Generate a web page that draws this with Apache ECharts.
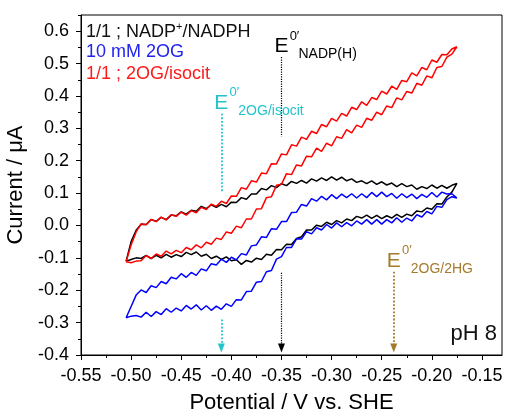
<!DOCTYPE html>
<html>
<head>
<meta charset="utf-8">
<script src="https://cdn.jsdelivr.net/npm/echarts@6/dist/echarts.min.js"></script>
<style>
  html, body { margin: 0; padding: 0; background: #fff; }
  #chart { width: 506px; height: 412px; }
</style>
</head>
<body>
<div id="chart"></div>
<script>
// Sampled electrode potentials (V vs. SHE) shared by every sweep
const potential = [
  -0.505,-0.500,-0.495,-0.490,-0.485,-0.480,-0.475,-0.470,-0.465,-0.460,
  -0.455,-0.450,-0.445,-0.440,-0.435,-0.430,-0.425,-0.420,-0.415,-0.410,
  -0.405,-0.400,-0.395,-0.390,-0.385,-0.380,-0.375,-0.370,-0.365,-0.360,
  -0.355,-0.350,-0.345,-0.340,-0.335,-0.330,-0.325,-0.320,-0.315,-0.310,
  -0.305,-0.300,-0.295,-0.290,-0.285,-0.280,-0.275,-0.270,-0.265,-0.260,
  -0.255,-0.250,-0.245,-0.240,-0.235,-0.230,-0.225,-0.220,-0.215,-0.210,
  -0.205,-0.200,-0.195,-0.190,-0.185,-0.180,-0.175
];

// 1/1 NADP+/NADPH : anodic (forward) and cathodic (return) currents, µA
const nadpForward = [
  -0.110,-0.050,-0.015,0.004,0.003,0.018,0.013,0.025,0.018,0.032,
  0.030,0.042,0.035,0.047,0.044,0.059,0.052,0.064,0.056,0.065,
  0.058,0.072,0.071,0.086,0.081,0.097,0.097,0.114,0.110,0.123,
  0.117,0.129,0.123,0.136,0.130,0.139,0.131,0.144,0.137,0.147,
  0.139,0.150,0.140,0.149,0.138,0.144,0.133,0.138,0.129,0.138,
  0.127,0.135,0.125,0.131,0.120,0.129,0.120,0.125,0.112,0.120,
  0.114,0.125,0.115,0.124,0.115,0.124,0.130
];
const nadpReturn = [
  -0.110,-0.105,-0.100,-0.102,-0.092,-0.102,-0.092,-0.100,-0.089,-0.098,
  -0.090,-0.096,-0.083,-0.090,-0.082,-0.095,-0.089,-0.102,-0.095,-0.105,
  -0.097,-0.109,-0.106,-0.120,-0.108,-0.113,-0.101,-0.105,-0.089,-0.092,
  -0.074,-0.075,-0.058,-0.059,-0.040,-0.035,-0.014,-0.014,0.001,-0.003,
  0.010,0.003,0.015,0.008,0.020,0.015,0.028,0.023,0.032,0.022,
  0.031,0.021,0.030,0.023,0.034,0.025,0.035,0.030,0.045,0.042,
  0.054,0.050,0.067,0.066,0.088,0.103,0.130
];

// 10 mM 2OG
const ogForward = [
  -0.285,-0.250,-0.215,-0.199,-0.207,-0.186,-0.192,-0.173,-0.180,-0.160,
  -0.165,-0.149,-0.160,-0.145,-0.154,-0.134,-0.140,-0.118,-0.122,-0.104,
  -0.114,-0.098,-0.106,-0.087,-0.091,-0.063,-0.060,-0.035,-0.037,-0.010,
  -0.012,0.012,0.012,0.040,0.041,0.065,0.060,0.083,0.075,0.090,
  0.079,0.095,0.083,0.097,0.086,0.098,0.085,0.098,0.086,0.102,
  0.089,0.103,0.089,0.099,0.084,0.098,0.086,0.097,0.083,0.096,
  0.087,0.102,0.088,0.103,0.097,0.098,0.085
];
const ogReturn = [
  -0.285,-0.280,-0.278,-0.283,-0.268,-0.281,-0.266,-0.275,-0.257,-0.268,
  -0.255,-0.264,-0.247,-0.258,-0.245,-0.261,-0.248,-0.262,-0.249,-0.259,
  -0.242,-0.250,-0.229,-0.230,-0.204,-0.203,-0.175,-0.173,-0.143,-0.139,
  -0.104,-0.096,-0.068,-0.068,-0.041,-0.042,-0.019,-0.026,-0.007,-0.014,
  0.003,-0.008,0.008,-0.004,0.009,-0.001,0.014,0.004,0.018,0.004,
  0.018,0.004,0.018,0.008,0.024,0.010,0.023,0.014,0.033,0.026,
  0.043,0.036,0.059,0.056,0.080,0.089,0.085
];

// 1/1 2OG/isocitrate
const isocitForward = [
  -0.112,-0.060,-0.020,0.005,0.002,0.019,0.012,0.026,0.017,0.033,
  0.028,0.041,0.032,0.046,0.039,0.056,0.049,0.066,0.059,0.075,
  0.068,0.091,0.090,0.117,0.112,0.138,0.134,0.162,0.160,0.191,
  0.190,0.221,0.218,0.249,0.245,0.273,0.266,0.291,0.284,0.312,
  0.305,0.331,0.322,0.346,0.338,0.365,0.358,0.382,0.371,0.395,
  0.389,0.415,0.406,0.430,0.420,0.448,0.444,0.471,0.462,0.488,
  0.481,0.511,0.504,0.528,0.527,0.545,0.552
];
const isocitReturn = [
  -0.112,-0.115,-0.110,-0.109,-0.093,-0.102,-0.088,-0.095,-0.079,-0.088,
  -0.077,-0.084,-0.068,-0.075,-0.060,-0.069,-0.052,-0.058,-0.039,-0.043,
  -0.020,-0.024,-0.002,-0.007,0.020,0.020,0.051,0.052,0.086,0.089,
  0.124,0.127,0.160,0.157,0.187,0.184,0.214,0.212,0.239,0.229,
  0.254,0.246,0.274,0.269,0.296,0.286,0.310,0.303,0.331,0.325,
  0.350,0.342,0.369,0.364,0.394,0.388,0.414,0.409,0.439,0.433,
  0.462,0.456,0.488,0.491,0.520,0.529,0.552
];

// Axis ticks
const xMajorTicks = [-0.55,-0.50,-0.45,-0.40,-0.35,-0.30,-0.25,-0.20,-0.15];
const xMinorTicks = [-0.525,-0.475,-0.425,-0.375,-0.325,-0.275,-0.225,-0.175];
const yMajorTicks = [-0.4,-0.3,-0.2,-0.1,0.0,0.1,0.2,0.3,0.4,0.5,0.6];
const yMinorTicks = [-0.35,-0.25,-0.15,-0.05,0.05,0.15,0.25,0.35,0.45,0.55,0.65];

// Formal potentials: [E0', top of upper dashes, bottom of upper dashes (or null), top of lower dashes, arrow tip]
const ePotNadp   = [-0.35,  0.52, 0.275, -0.146, -0.378];
const ePotIsocit = [-0.41,  0.345, 0.105, -0.29, -0.378];
const ePot2hg    = [-0.238, null, null, -0.143, -0.378];

const FONT = '"Liberation Sans", Arial, sans-serif';
const CYAN = '#22c4cc';
const BROWN = '#a57b2b';

function cycle(fwd, ret) {
  const a = potential.map((e, i) => [e, fwd[i]]);
  const b = potential.map((e, i) => [e, ret[i]]).reverse();
  return a.concat(b);
}

function cvSeries(name, color, fwd, ret) {
  return {
    name, type: 'line', data: cycle(fwd, ret),
    symbol: 'none', showSymbol: false,
    lineStyle: { color, width: 1.5 }, itemStyle: { color },
    xAxisIndex: 0, yAxisIndex: 0, silent: true
  };
}

function arrowLines(p, color, width) {
  const out = [];
  const st = { color, type: 'dotted', width };
  if (p[1] !== null) {
    out.push([{ coord: [p[0], p[1]], symbol: 'none', lineStyle: st },
              { coord: [p[0], p[2]], symbol: 'none', lineStyle: st }]);
  }
  out.push([{ coord: [p[0], p[3]], symbol: 'none', lineStyle: st },
            { coord: [p[0], p[4]], symbol: 'triangle', symbolSize: [7, 9], lineStyle: st }]);
  return out;
}

function eLabel(x, y, color, sub) {
  const base = { show: true, position: 'inside', color, fontFamily: FONT };
  return [
    { coord: [x, y], symbolSize: 0, label: Object.assign({}, base, { formatter: 'E', fontSize: 21, offset: [0, -11] }) },
    { coord: [x, y], symbolSize: 0, label: Object.assign({}, base, { formatter: '0\u2032', fontSize: 13, offset: [13, -21] }) },
    { coord: [x, y], symbolSize: 0, label: Object.assign({}, base, { formatter: sub, fontSize: 14, align: 'left', offset: [17, -3] }) }
  ];
}

const topOf = p => (p[1] !== null ? p[1] : p[3]);

const chart = echarts.init(document.getElementById('chart'), null, { renderer: 'canvas' });

const axisText = { fontFamily: FONT, color: '#000' };

chart.setOption({
  animation: false,
  backgroundColor: '#fff',
  grid: {
    left: 81, right: 4, top: 15, bottom: 57,
    outerBoundsMode: 'none', containLabel: false,
    show: true, borderColor: '#000', borderWidth: 1
  },
  xAxis: [
    {
      type: 'value', min: -0.55, max: -0.13, position: 'bottom',
      axisLine: { show: true, onZero: false, lineStyle: { color: '#000', width: 1 } },
      axisTick: { show: true, length: 5, customValues: xMajorTicks, lineStyle: { color: '#000' } },
      axisLabel: Object.assign({ customValues: xMajorTicks, fontSize: 18, margin: 12, formatter: v => v.toFixed(2) }, axisText),
      splitLine: { show: false },
      name: 'Potential / V vs. SHE', nameLocation: 'middle', nameGap: 37,
      nameTextStyle: Object.assign({ fontSize: 22 }, axisText)
    },
    {
      type: 'value', min: -0.55, max: -0.13, position: 'bottom',
      axisLine: { show: false, onZero: false },
      axisTick: { show: true, length: 3, customValues: xMinorTicks, lineStyle: { color: '#000' } },
      axisLabel: { show: false }, splitLine: { show: false }
    }
  ],
  yAxis: [
    {
      type: 'value', min: -0.4, max: 0.65, position: 'left',
      axisLine: { show: true, onZero: false, lineStyle: { color: '#000', width: 1 } },
      axisTick: { show: true, length: 5, customValues: yMajorTicks, lineStyle: { color: '#000' } },
      axisLabel: Object.assign({ customValues: yMajorTicks, fontSize: 18, margin: 12, formatter: v => v.toFixed(1) }, axisText),
      splitLine: { show: false },
      name: 'Current / \u03bcA', nameLocation: 'middle', nameGap: 40,
      nameTextStyle: Object.assign({ fontSize: 22 }, axisText)
    },
    {
      type: 'value', min: -0.4, max: 0.65, position: 'left',
      axisLine: { show: false, onZero: false },
      axisTick: { show: true, length: 3, customValues: yMinorTicks, lineStyle: { color: '#000' } },
      axisLabel: { show: false }, splitLine: { show: false }
    }
  ],
  series: [
    cvSeries('1/1 ; NADP+/NADPH', '#000000', nadpForward, nadpReturn),
    cvSeries('10 mM 2OG', '#0000ff', ogForward, ogReturn),
    cvSeries('1/1 ; 2OG/isocit', '#ff0000', isocitForward, isocitReturn),
    {
      type: 'line', data: [], xAxisIndex: 0, yAxisIndex: 0, silent: true,
      markLine: {
        silent: true, animation: false, symbol: ['none', 'none'], label: { show: false },
        data: [].concat(
          arrowLines(ePotNadp, '#000000', 1.2),
          arrowLines(ePotIsocit, CYAN, 1.8),
          arrowLines(ePot2hg, BROWN, 1.8)
        )
      },
      markPoint: {
        silent: true, animation: false, symbol: 'circle', symbolSize: 0,
        data: [].concat(
          eLabel(ePotNadp[0], topOf(ePotNadp), '#000000', 'NADP(H)'),
          eLabel(ePotIsocit[0], topOf(ePotIsocit), CYAN, '2OG/isocit'),
          eLabel(ePot2hg[0], topOf(ePot2hg), BROWN, '2OG/2HG')
        )
      }
    }
  ],
  graphic: [
    {
      type: 'text', left: 86, top: 21, silent: true,
      style: {
        text: '1/1 ; NADP{sup|+}/NADPH', fill: '#111', font: '18px ' + FONT,
        rich: { sup: { fontSize: 11, fontFamily: FONT, fill: '#111', verticalAlign: 'top', lineHeight: 11 } },
        lineHeight: 22
      }
    },
    { type: 'text', left: 86, top: 43, silent: true, style: { text: '10 mM 2OG', fill: '#2323f0', font: '18px ' + FONT } },
    { type: 'text', left: 86, top: 65, silent: true, style: { text: '1/1 ; 2OG/isocit', fill: '#ff1a1a', font: '18px ' + FONT } },
    { type: 'text', right: 9, top: 323, silent: true, style: { text: 'pH 8', fill: '#111', font: '22px ' + FONT } }
  ]
});
</script>
</body>
</html>
